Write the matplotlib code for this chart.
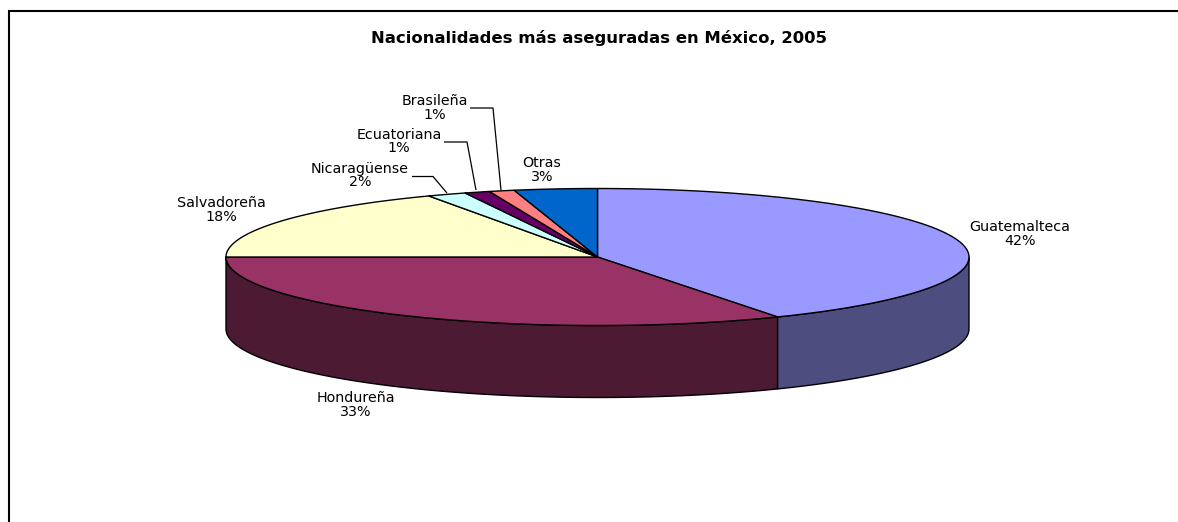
import numpy as np
import matplotlib
matplotlib.use("Agg")
import matplotlib.pyplot as plt
from matplotlib.patches import Polygon

plt.rcParams['font.family'] = ['DejaVu Sans']

title = "Nacionalidades más aseguradas en México, 2005"
categories = ["Guatemalteca", "Hondureña", "Salvadoreña", "Nicaragüense", "Ecuatoriana", "Brasileña", "Otras"]
values = [41.95, 33.05, 17.5, 1.7, 1.1, 1.1, 3.6]
percent_labels = ["42%", "33%", "18%", "2%", "1%", "1%", "3%"]
top_colors = ["#9999FF", "#993366", "#FFFFCC", "#CCFFFF", "#660066", "#FF8080", "#0066CC"]
side_colors = ["#4D4D80", "#4D1A33"]
label_pos = [(1020, 234), (356, 405), (221, 210), (360, 175.5), (399, 141.5), (435, 108), (542, 170)]
leaders = [None, None, None,
           [(412, 176.5), (433, 176.5), (447, 193)],
           [(444, 142), (467, 142), (476, 190)],
           [(470, 108), (493, 108), (501, 190)],
           None]

W, H = 1178, 522
CX, CY, RX, RY, DEPTH = 597.5, 257, 371.5, 68.5, 72

fig = plt.figure(figsize=(W / 100, H / 100), dpi=100)
ax = fig.add_axes([0, 0, 1, 1])
ax.set_xlim(0, W)
ax.set_ylim(H, 0)
ax.axis("off")


def pt(t, dy=0):
    t = np.asarray(t)
    return CX + RX * np.sin(t), CY - RY * np.cos(t) + dy


edges = np.cumsum([0] + values) / sum(values) * 2 * np.pi

# side wall (visible from the right edge round to the left edge)
for i in range(2):
    a, b = edges[i], edges[i + 1]
    a, b = max(a, np.pi / 2), min(b, 3 * np.pi / 2)
    t = np.linspace(a, b, 200)
    x, y = pt(t)
    x2, y2 = pt(t[::-1], DEPTH)
    ax.add_patch(Polygon(np.r_[np.c_[x, y], np.c_[x2, y2]], closed=True,
                         fc=side_colors[i], ec="black", lw=1.0, joinstyle="round"))

# top face
for i in range(len(values)):
    t = np.linspace(edges[i], edges[i + 1], 200)
    x, y = pt(t)
    ax.add_patch(Polygon(np.r_[[[CX, CY]], np.c_[x, y]], closed=True,
                         fc=top_colors[i], ec="black", lw=1.0, joinstyle="round"))

for name, pct, (x, y) in zip(categories, percent_labels, label_pos):
    ax.text(x, y, f"{name}\n{pct}", ha="center", va="center", fontsize=10.3,
            linespacing=0.98, color="black")

for seg in leaders:
    if seg:
        xs, ys = zip(*seg)
        ax.plot(xs, ys, color="black", lw=0.9, solid_capstyle="butt")

ax.text(599, 38, title, ha="center", va="center", fontsize=11.85, fontweight="bold")

# chart frame
ax.plot([9, 9, W], [H, 11, 11], color="black", lw=1.5, solid_joinstyle="miter", solid_capstyle="butt")

fig.savefig("out.png", dpi=100, facecolor="white")
